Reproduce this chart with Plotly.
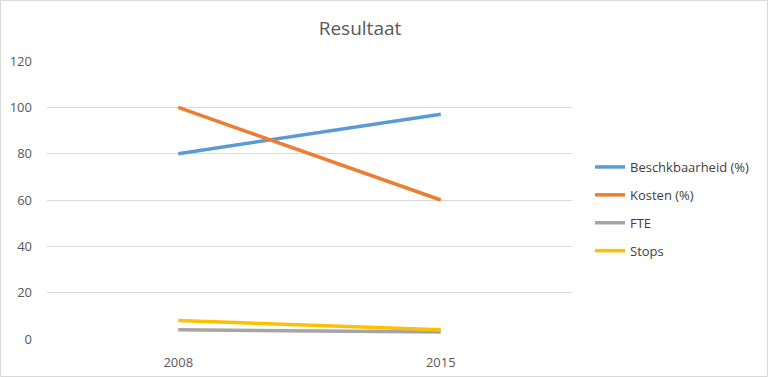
import plotly.graph_objects as go

years = ["2008", "2015"]
beschikbaarheid = [80, 97]
kosten = [100, 60]
fte = [4, 3]
stops = [8, 4]

series = [
    ("Beschkbaarheid (%)", beschikbaarheid, "#5B9BD5"),
    ("Kosten (%)", kosten, "#ED7D31"),
    ("FTE", fte, "#A5A5A5"),
    ("Stops", stops, "#FFC000"),
]

W, H = 768, 377
L, R, T, B = 47, 196, 61, 38

fig = go.Figure()
for i, (name, vals, col) in enumerate(series):
    fig.add_trace(go.Scatter(x=years, y=vals, name=name, mode="lines",
                             line=dict(color=col, width=3.5),
                             legendgroup=f"g{i}"))

pw = W - L - R
ph = H - T - B
fig.update_layout(
    width=W, height=H,
    margin=dict(l=L, r=R, t=T, b=B, autoexpand=False),
    paper_bgcolor="white", plot_bgcolor="white",
    font=dict(family="Open Sans", color="#595959", size=13),
    title=dict(text="Resultaat", xref="container", x=360 / W, xanchor="center",
               y=1 - 28 / H, yanchor="middle",
               font=dict(size=19, color="#595959")),
    xaxis=dict(type="category", range=[-0.5, 1.5], showgrid=False, zeroline=False,
               showline=False, ticks="", ticklabelstandoff=14, automargin=False,
               tickfont=dict(size=13, color="#595959")),
    yaxis=dict(range=[0, 120], dtick=20, showgrid=True, gridcolor="#D9D9D9", gridwidth=1,
               zeroline=False, showline=False, ticks="", ticklabelstandoff=14, automargin=False,
               tickfont=dict(size=13, color="#595959")),
    legend=dict(x=(590 - L) / pw, xanchor="left", y=1 - (166 - T - 14) / ph, yanchor="top",
                traceorder="grouped", tracegroupgap=8, bgcolor="rgba(0,0,0,0)",
                font=dict(size=13, color="#404040"), itemwidth=30),
    showlegend=True,
    shapes=[dict(type="rect", xref="paper", yref="paper",
                 x0=(-L + 0.5) / pw, x1=(W - L - 0.5) / pw,
                 y0=(-B + 0.5) / ph, y1=1 + (T - 0.5) / ph,
                 line=dict(color="#D9D9D9", width=1), layer="below")],
)

fig.write_html("out.html")
